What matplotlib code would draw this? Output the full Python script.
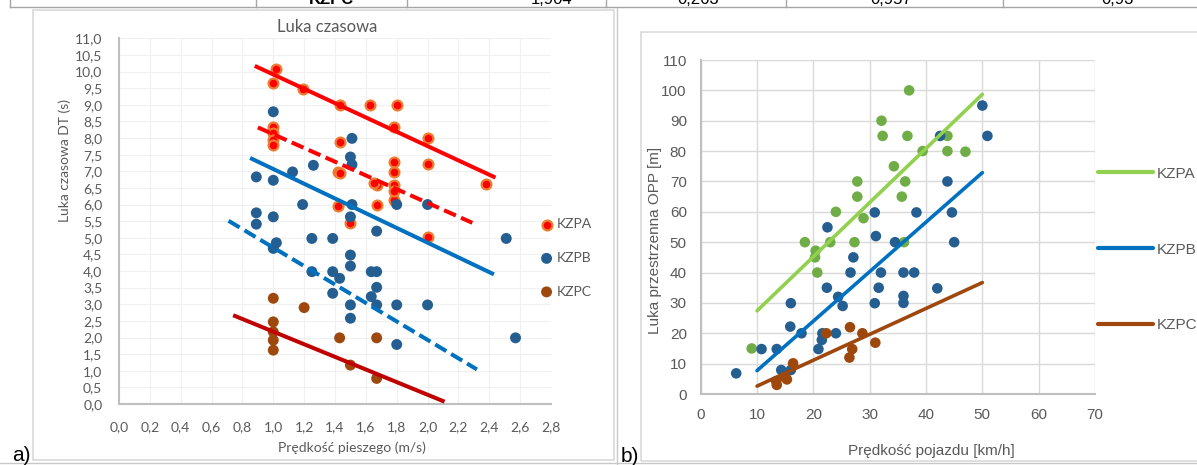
import matplotlib
matplotlib.use('Agg')
import matplotlib.pyplot as plt
from matplotlib.patches import Rectangle
from matplotlib.lines import Line2D
from matplotlib.ticker import FuncFormatter, MultipleLocator

# ---------------- data: panel a (time gap vs pedestrian speed) ----------------
a_kzpa_x = [1.02, 1.0, 1.19, 1.43, 1.63, 1.80, 1.78, 2.0, 1.0, 1.0, 1.0, 1.0, 1.43, 2.0, 1.78,
            1.78, 1.42, 1.43, 1.67, 1.65, 1.78, 2.38, 1.67, 1.78, 1.42, 1.50, 2.0, 1.78]
a_kzpa_y = [10.09, 9.67, 9.46, 8.98, 8.98, 8.98, 8.34, 7.99, 8.34, 8.15, 7.94, 7.80, 7.87, 7.23, 7.28,
            6.98, 6.98, 6.95, 6.58, 6.65, 6.58, 6.63, 6.00, 6.13, 5.95, 5.45, 5.03, 6.40]

a_kzpb_x = [1.0, 0.89, 1.0, 1.125, 0.89, 0.89, 1.0, 1.51, 1.5, 1.51, 1.26, 1.19, 1.51, 1.50, 1.80,
            2.0, 1.67, 1.25, 1.385, 2.51, 1.02, 1.0, 1.5, 1.5, 1.25, 1.385, 1.43, 1.635, 1.67,
            1.385, 1.67, 1.635, 1.67, 1.5, 1.80, 2.0, 1.5, 1.80, 2.57]
a_kzpb_y = [8.79, 6.83, 6.73, 6.98, 5.75, 5.41, 5.63, 7.99, 7.43, 7.20, 7.18, 6.00, 6.00, 5.63, 6.00,
            6.00, 5.20, 4.98, 4.98, 4.98, 4.85, 4.68, 4.48, 4.15, 3.98, 3.98, 3.78, 3.98, 3.98,
            3.33, 3.51, 3.23, 2.98, 2.98, 2.98, 2.98, 2.58, 1.79, 1.99]

a_kzpc_x = [1.0, 1.0, 1.0, 1.0, 1.0, 1.2, 1.43, 1.67, 1.5, 1.67]
a_kzpc_y = [3.18, 2.47, 2.17, 1.92, 1.62, 2.90, 1.99, 1.99, 1.17, 0.77]

# trend lines (end points)
a_kzpa_trend_x, a_kzpa_trend_y = [0.88, 2.44], [10.17, 6.81]
a_kzpa_dash_x, a_kzpa_dash_y = [0.90, 2.29], [8.32, 5.45]
a_kzpb_trend_x, a_kzpb_trend_y = [0.85, 2.43], [7.40, 3.90]
a_kzpb_dash_x, a_kzpb_dash_y = [0.71, 2.32], [5.51, 1.04]
a_kzpc_trend_x, a_kzpc_trend_y = [0.74, 2.11], [2.67, 0.07]

# ---------------- data: panel b (space gap vs vehicle speed) ----------------
b_kzpa_x = [37, 32.1, 32.3, 36.7, 43.8, 39.4, 43.8, 47.0, 34.3, 36.3, 35.7, 27.8, 27.8, 24.0,
            28.9, 18.5, 23.0, 27.3, 36.1, 20.4, 20.3, 20.7, 9.05]
b_kzpa_y = [100, 90, 85, 85, 85, 80, 80, 79.8, 75, 70, 65, 70, 65, 60,
            57.9, 50, 50, 50, 50, 47.2, 45, 40, 15]

b_kzpb_x = [50.0, 50.9, 42.5, 43.8, 38.3, 44.6, 34.5, 45.0, 22.5, 30.9, 31.1, 27.1, 26.6, 32.0,
            36.0, 37.9, 42.0, 22.4, 31.6, 24.4, 36.0, 36.0, 16.0, 25.2, 30.9, 15.9, 17.9, 21.6,
            24.0, 21.5, 20.9, 10.8, 13.5, 14.3, 16.0, 6.3]
b_kzpb_y = [95, 85, 85, 70, 59.8, 59.8, 50, 50, 54.9, 59.8, 52, 45, 40, 40,
            40, 40, 34.8, 35, 35, 32, 32.3, 30, 29.9, 29, 29.9, 22.2, 20, 20,
            20, 17.8, 14.8, 14.8, 14.8, 7.9, 7.9, 6.8]

b_kzpc_x = [26.5, 22.3, 28.7, 31.0, 26.9, 26.4, 16.4, 15.3, 13.5, 13.4, 15.0]
b_kzpc_y = [22, 20, 20, 16.9, 14.8, 12, 10.1, 4.8, 3.0, 4.2, 5.5]

b_trend_x = [10, 50]
b_kzpa_trend_y = [27.4, 98.7]
b_kzpb_trend_y = [7.7, 72.9]
b_kzpc_trend_y = [2.6, 36.7]

series_names = ['KZPA', 'KZPB', 'KZPC']
table_row = ['KZPC', '1,904', '0,263', '0,957', '0,93']

# ---------------- layout helpers ----------------
W, H = 1197, 465
fig = plt.figure(figsize=(W / 100, H / 100), dpi=100)
fig.patch.set_facecolor('white')


def fx(px):
    return px / W


def fy(py):
    return 1 - py / H


def frame(x0, y0, x1, y1, color='#D9D9D9', lw=1.2):
    fig.add_artist(Rectangle((fx(x0), fy(y1)), fx(x1) - fx(x0), fy(y0) - fy(y1),
                             transform=fig.transFigure, fill=False, ec=color, lw=lw))


def hline(x0, x1, y, color='#A6A6A6', lw=1.0):
    fig.add_artist(Line2D([fx(x0), fx(x1)], [fy(y), fy(y)], transform=fig.transFigure, color=color, lw=lw))


def vline(x, y0, y1, color='#A6A6A6', lw=1.0):
    fig.add_artist(Line2D([fx(x), fx(x)], [fy(y0), fy(y1)], transform=fig.transFigure, color=color, lw=lw))


# ---------------- table remnant at top ----------------
hline(10, 1197, 7.5)
vline(10, 0, 7.5)
for xv in [256, 407, 606, 786, 1003]:
    vline(xv, 0, 7.5)
for txt, xc, bold in zip(table_row, [331, 552, 698, 891, 1118], [True, False, False, False, False]):
    fig.text(fx(xc), fy(4.5), txt, ha='center', va='baseline', fontsize=12,
             family='Liberation Sans', fontweight='bold' if bold else 'normal', color='black')

# cell / chart frames
frame(33, 10, 614, 460)
vline(617, 8, 465, color='#C8C8C8')
hline(0, 1197, 463, color='#C8C8C8')
frame(641, 32, 1200, 461)

fig.text(fx(21), fy(455), 'a)', ha='center', va='center', fontsize=15, family='Liberation Sans', color='black')
fig.text(fx(630), fy(456), 'b)', ha='center', va='center', fontsize=15, family='Liberation Sans', color='black')

# ---------------- panel a ----------------
fa = 'Lato'
gray_txt = '#595959'
axA = fig.add_axes([fx(119), fy(404), fx(551) - fx(119), fy(38.3) - fy(404)])
axA.set_xlim(0, 2.8)
axA.set_ylim(0, 11)
axA.xaxis.set_major_locator(MultipleLocator(0.2))
axA.yaxis.set_major_locator(MultipleLocator(0.5))
comma1 = FuncFormatter(lambda v, p: f'{v:.1f}'.replace('.', ','))
axA.xaxis.set_major_formatter(comma1)
axA.yaxis.set_major_formatter(comma1)
axA.grid(True, color='#F0F0F0', lw=0.8)
axA.set_axisbelow(True)
for s in ['top', 'right']:
    axA.spines[s].set_visible(False)
for s in ['left', 'bottom']:
    axA.spines[s].set_color('#BFBFBF')
    axA.spines[s].set_linewidth(1.5)
axA.tick_params(length=0, labelsize=10, labelcolor=gray_txt)
axA.tick_params(axis='y', pad=12)
axA.tick_params(axis='x', pad=12)
for lab in axA.get_xticklabels() + axA.get_yticklabels():
    lab.set_family(fa)

hA = axA.scatter(a_kzpa_x, a_kzpa_y, s=50, c='#FF0000', edgecolors='#ED7D31', linewidths=1.6, zorder=3)
hB = axA.scatter(a_kzpb_x, a_kzpb_y, s=62, c='#255E91', edgecolors='none', zorder=3)
hC = axA.scatter(a_kzpc_x, a_kzpc_y, s=62, c='#9E480E', edgecolors='none', zorder=3)

axA.plot(a_kzpa_trend_x, a_kzpa_trend_y, color='#FF0000', lw=2.9, solid_capstyle='butt', zorder=4)
axA.plot(a_kzpa_dash_x, a_kzpa_dash_y, color='#FF0000', lw=2.9, ls=(0, (3.2, 1.4)), dash_capstyle='butt', zorder=4)
axA.plot(a_kzpb_trend_x, a_kzpb_trend_y, color='#0070C0', lw=2.9, solid_capstyle='butt', zorder=4)
axA.plot(a_kzpb_dash_x, a_kzpb_dash_y, color='#0070C0', lw=2.9, ls=(0, (3.2, 1.4)), dash_capstyle='butt', zorder=4)
axA.plot(a_kzpc_trend_x, a_kzpc_trend_y, color='#C00000', lw=2.9, solid_capstyle='butt', zorder=4)

fig.text(fx(327), fy(27), 'Luka czasowa', ha='center', va='center', fontsize=12, family=fa, color=gray_txt)
fig.text(fx(65), fy(161), 'Luka czasowa DT (s)', ha='center', va='center', rotation=90, fontsize=10,
         family=fa, color=gray_txt)
fig.text(fx(352), fy(448), 'Prędkość pieszego (m/s)', ha='center', va='center', fontsize=10,
         family=fa, color=gray_txt)

legA = fig.legend([hA, hB, hC], series_names, loc='center left', bbox_to_anchor=(fx(541), fy(258)),
                  frameon=False, prop={'family': fa, 'size': 10}, handlelength=0.8, handletextpad=0.3,
                  labelspacing=1.55, borderpad=0, borderaxespad=0, scatterpoints=1)
for t in legA.get_texts():
    t.set_color(gray_txt)

# ---------------- panel b ----------------
fb = 'Liberation Sans'
axB = fig.add_axes([fx(700.7), fy(394), fx(1095) - fx(700.7), fy(60) - fy(394)])
axB.set_xlim(0, 70)
axB.set_ylim(0, 110)
axB.xaxis.set_major_locator(MultipleLocator(10))
axB.yaxis.set_major_locator(MultipleLocator(10))
axB.grid(True, color='#D9D9D9', lw=1.0)
axB.set_axisbelow(True)
for s in ['top', 'right']:
    axB.spines[s].set_visible(False)
for s in ['left', 'bottom']:
    axB.spines[s].set_color('#BFBFBF')
    axB.spines[s].set_linewidth(1.5)
axB.tick_params(length=0, labelsize=11, labelcolor=gray_txt)
axB.tick_params(axis='y', pad=10)
axB.tick_params(axis='x', pad=10)
for lab in axB.get_xticklabels() + axB.get_yticklabels():
    lab.set_family(fb)

axB.scatter(b_kzpa_x, b_kzpa_y, s=58, c='#70AD47', edgecolors='none', zorder=3)
axB.scatter(b_kzpb_x, b_kzpb_y, s=58, c='#255E91', edgecolors='none', zorder=3)
axB.scatter(b_kzpc_x, b_kzpc_y, s=58, c='#9E480E', edgecolors='none', zorder=3)
lA, = axB.plot(b_trend_x, b_kzpa_trend_y, color='#92D050', lw=2.6, solid_capstyle='round', zorder=4)
lB, = axB.plot(b_trend_x, b_kzpb_trend_y, color='#0070C0', lw=2.6, solid_capstyle='round', zorder=4)
lC, = axB.plot(b_trend_x, b_kzpc_trend_y, color='#9E480E', lw=2.6, solid_capstyle='round', zorder=4)

fig.text(fx(655), fy(240), 'Luka przestrzenna OPP [m]', ha='center', va='center', rotation=90, fontsize=11,
         family=fb, color=gray_txt)
fig.text(fx(931), fy(451), 'Prędkość pojazdu [km/h]', ha='center', va='center', fontsize=11,
         family=fb, color=gray_txt)

legB = fig.legend([lA, lB, lC], series_names, loc='center left', bbox_to_anchor=(fx(1098), fy(249.5)),
                  frameon=False, prop={'family': fb, 'size': 11}, handlelength=3.6, handletextpad=0.26,
                  labelspacing=4.05, borderpad=0, borderaxespad=0)
for t in legB.get_texts():
    t.set_color(gray_txt)
for ln in legB.get_lines():
    ln.set_linewidth(3.0)

fig.savefig('out.png', dpi=100)
